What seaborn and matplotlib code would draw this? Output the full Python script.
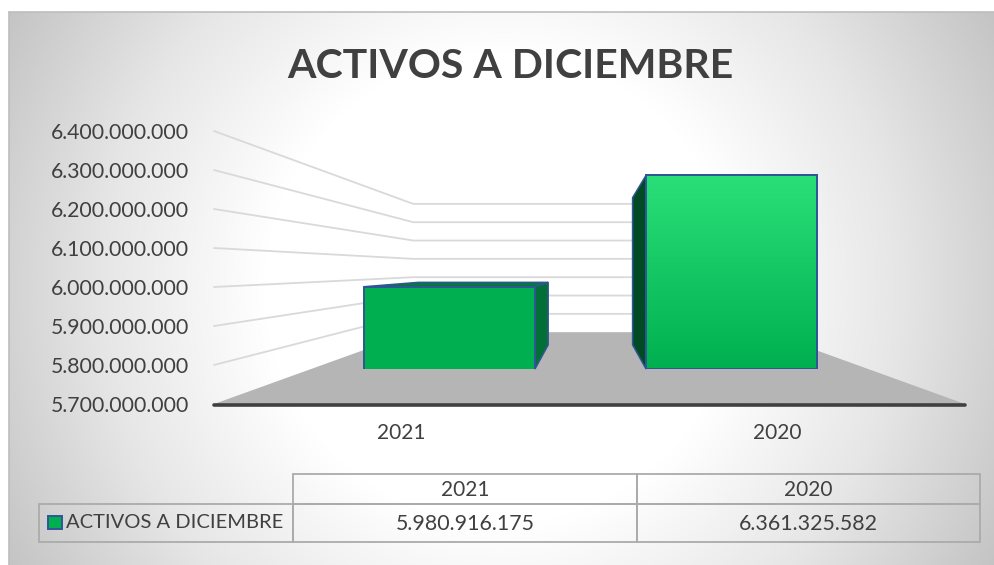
import numpy as np
import pandas as pd
import seaborn as sns
from matplotlib import pyplot as plt
from matplotlib.colors import LinearSegmentedColormap
from matplotlib.patches import Polygon, Rectangle

years = ['2021', '2020']
activos = [5980916175, 6361325582]
y_ticks = [5700000000, 5800000000, 5900000000, 6000000000,
           6100000000, 6200000000, 6300000000, 6400000000]
series_name = 'ACTIVOS A DICIEMBRE'

W, H = 995, 565
TEXT = '#404040'
EDGE = '#2F5597'
VANISH = np.array([590.0, 268.5])  # where all the depth lines meet


def es_number(v):
    return f'{v:,.0f}'.replace(',', '.')


def px_axes(fig, left, top, right, bottom, **kw):
    """Axes placed by pixel box, y counted from the top of the image."""
    return fig.add_axes([left / W, 1 - bottom / H, (right - left) / W, (bottom - top) / H], **kw)


def depth(points, t):
    """Push pixel points back towards the vanishing point."""
    points = np.asarray(points, dtype=float)
    return points + t * (VANISH - points)


sns.set_theme(style='white')
plt.rcParams['font.family'] = ['Lato', 'DejaVu Sans']

fig = plt.figure(figsize=(W / 100, H / 100), dpi=100)

# background, in pixel coordinates
bg = px_axes(fig, 0, 0, W, H)
bg.set_xlim(0, W)
bg.set_ylim(H, 0)
bg.axis('off')
xx, yy = np.meshgrid(np.arange(9, W), np.arange(12, H))
dist = np.hypot(xx - 500, yy - 288)
shade = np.clip((dist - 235) / (565 - 235), 0, 1)
cmap = LinearSegmentedColormap.from_list('bg', ['#FFFFFF', '#E6E6E6', '#C4C4C4'])
bg.imshow(shade, cmap=cmap, vmin=0, vmax=1, extent=(9, W, H, 12), aspect='auto', zorder=0)
bg.set_xlim(0, W)
bg.set_ylim(H, 0)
bg.plot([9, W], [12, 12], color='#BDBDBD', lw=1.2, zorder=1)
bg.plot([9, 9], [12, H], color='#BDBDBD', lw=1.2, zorder=1)

# main axes carries the tick labels of the front edge of the 3D box
ax = px_axes(fig, 214, 131, 965, 404)
ax.patch.set_alpha(0)
sns.despine(ax=ax, left=True, right=True, top=True, bottom=True)
ax.set_xlim(-0.5, 1.5)
ax.set_ylim(y_ticks[0], y_ticks[-1])
ax.set_xticks(range(len(years)), years)
ax.set_yticks(y_ticks, [es_number(v) for v in y_ticks])
ax.tick_params(axis='y', labelsize=15.3, labelcolor=TEXT, length=0, pad=18)
ax.tick_params(axis='x', labelsize=15, labelcolor=TEXT, length=0, pad=14)

# floor and walls, derived from the main axes
BACK = 0.53
to_px = lambda x, y: bg.transData.inverted().transform(ax.transData.transform((x, y)))
front_l, front_r = to_px(-0.5, y_ticks[0]), to_px(1.5, y_ticks[0])
bg.add_patch(Polygon([front_l, front_r, depth(front_r, BACK), depth(front_l, BACK)],
                     facecolor='#B5B5B5', edgecolor='none', zorder=2))
for tick in y_ticks[1:]:
    a, b = to_px(-0.5, tick), to_px(1.5, tick)
    wall = np.array([a, depth(a, BACK), depth(b, BACK)])
    bg.plot(wall[:, 0], wall[:, 1], color='#D9D9D9', lw=1.3, zorder=2)
bg.plot([front_l[0], front_r[0]], [front_l[1] + 0.5, front_r[1] + 0.5], color='#404040',
        lw=2.6, solid_capstyle='round', zorder=3)

# bars on their own axes, sitting on the floor
bar_ax = px_axes(fig, 308.5, 164, 872.5, 369)
bar_ax.patch.set_alpha(0)
df = pd.DataFrame({'year': years, 'value': activos})
sns.barplot(data=df, x='year', y='value', ax=bar_ax, width=0.606, color='#00B050',
            saturation=1, edgecolor=EDGE, linewidth=1.4)
bar_ax.set_ylim(y_ticks[0], y_ticks[-1])
bar_ax.axis('off')

fig.canvas.draw()

BAR_DEPTH = 0.24
bars = bar_ax.patches
corners = []
for bar in bars:
    x0, x1 = bar.get_x(), bar.get_x() + bar.get_width()
    top = bar.get_height()
    to_bg = lambda x, y: bg.transData.inverted().transform(bar_ax.transData.transform((x, y)))
    corners.append((to_bg(x0, top), to_bg(x1, top), to_bg(x1, y_ticks[0]), to_bg(x0, y_ticks[0])))

# 2021 shows its top and right side
tl, tr, br, bl = corners[0]
bg.add_patch(Polygon([tl, tr, depth(tr, BAR_DEPTH), depth(tl, BAR_DEPTH)], facecolor='#04793B',
                     edgecolor=EDGE, lw=1.1, zorder=4))
bg.add_patch(Polygon([tr, br, depth(br, BAR_DEPTH), depth(tr, BAR_DEPTH)], facecolor='#027036',
                     edgecolor=EDGE, lw=1.1, zorder=4))
# 2020 is tall enough to show only its left side
tl, tr, br, bl = corners[1]
bg.add_patch(Polygon([tl, bl, depth(bl, BAR_DEPTH), depth(tl, BAR_DEPTH)], facecolor='#024A24',
                     edgecolor=EDGE, lw=1.1, zorder=4))

# 2020 front face has a light gradient
bar = bars[1]
grad = np.linspace(0, 1, 200).reshape(-1, 1)
grad_cmap = LinearSegmentedColormap.from_list('g', ['#00B050', '#2ADF78'])
img = bar_ax.imshow(grad, cmap=grad_cmap, origin='lower', aspect='auto', zorder=bar.get_zorder() + 0.1,
                    extent=(bar.get_x(), bar.get_x() + bar.get_width(), y_ticks[0], bar.get_height()))
img.set_clip_path(bar)
bar_ax.add_patch(Rectangle((bar.get_x(), y_ticks[0]), bar.get_width(), bar.get_height() - y_ticks[0],
                           fill=False, edgecolor=EDGE, lw=1.4, zorder=bar.get_zorder() + 0.2))
bar_ax.set_xlim(-0.5, 1.5)
bar_ax.set_ylim(y_ticks[0], y_ticks[-1])

fig.text(510 / W, 1 - 67 / H, series_name, ha='center', va='center', fontsize=29.5,
         fontweight='bold', color=TEXT)

# data table below the chart
GRID = '#ABABAB'
tab = px_axes(fig, 0, 0, W, H)
tab.set_xlim(0, W)
tab.set_ylim(H, 0)
tab.axis('off')
tab.patch.set_alpha(0)
columns = [(293, 637), (637, 980)]
for (c0, c1), year, value in zip(columns, years, activos):
    tab.add_patch(Rectangle((c0, 474), c1 - c0, 30, fill=False, edgecolor=GRID, lw=1.3))
    tab.add_patch(Rectangle((c0, 504), c1 - c0, 38, fill=False, edgecolor=GRID, lw=1.3))
    tab.text((c0 + c1) / 2, 490.5, year, ha='center', va='center', fontsize=15, color=TEXT)
    tab.text((c0 + c1) / 2, 524, es_number(value), ha='center', va='center', fontsize=15.4, color=TEXT)
tab.add_patch(Rectangle((39, 504), 254, 38, fill=False, edgecolor=GRID, lw=1.3))
tab.add_patch(Rectangle((48, 515.5), 13.5, 13.5, facecolor='#00B050', edgecolor=EDGE, lw=1.4))
tab.text(66.5, 522.5, series_name, ha='left', va='center', fontsize=14.5, color=TEXT)

fig.savefig('out.png', dpi=100)
